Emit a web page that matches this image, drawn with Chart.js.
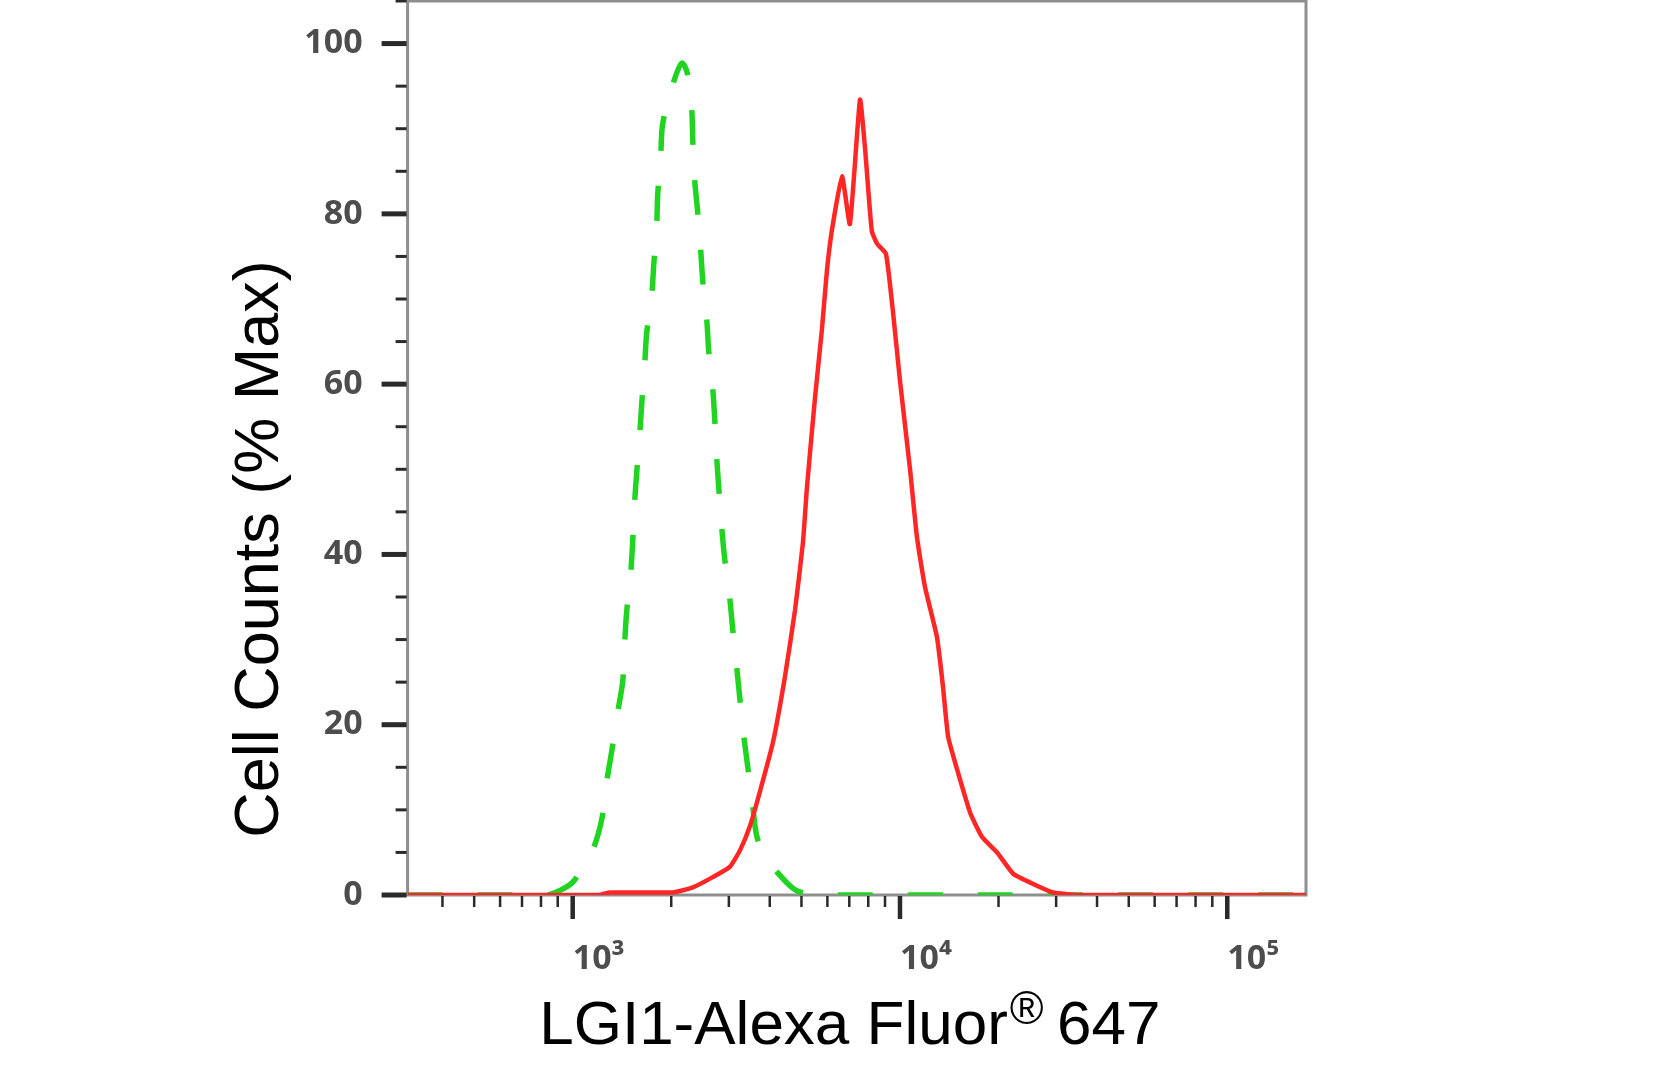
<!DOCTYPE html>
<html>
<head>
<meta charset="utf-8">
<title>LGI1 flow histogram</title>
<script src="https://cdn.jsdelivr.net/npm/chart.js@4.4.1/dist/chart.umd.min.js"></script>
<style>
  html, body { margin: 0; padding: 0; background: #fff; overflow: hidden; }
  #wrap { position: relative; width: 1654px; height: 1085px; }
</style>
</head>
<body>
<div id="wrap"><canvas id="histo"></canvas></div>
<script>
// axis limits and tick labels
var xMin = 313, xMax = 174000;
var xMajorTicks = [1000, 10000, 100000];
var xTickLabels = ["10\u00B3", "10\u2074", "10\u2075"];
var yMajorTicks = [0, 20, 40, 60, 80, 100];
var yTitle = 'Cell Counts (% Max)';
var xTitleParts = ['LGI1-Alexa Fluor', '\u00AE', ' 647'];

// isotype control (green dashed)
var greenX = [313, 600, 830, 900, 1000, 1080, 1160, 1230, 1270, 1316,
              1373, 1422, 1442, 1462, 1504, 1525, 1545, 1569, 1603, 1626,
              1660, 1683, 1745, 1769, 1806, 1819, 1858, 1884, 2023, 2154,
              2240, 2312, 2328, 2361, 2411, 2462, 2500, 2570, 2606, 2680,
              2718, 2757, 2795, 2857, 2917, 3022, 3085, 3175, 3243, 3334,
              3428, 3550, 3652, 3900, 4207, 4842, 6000, 20000, 174000];
var greenY = [0, 0, 0, 0.4, 1.5, 3.5, 5.6, 9.1, 13.3, 16.9,
              21.5, 25.1, 29.7, 33.3, 37.8, 41.5, 46.0, 49.6, 54.2, 57.8,
              62.4, 66.0, 70.6, 74.1, 78.8, 82.3, 87.0, 90.6, 95.2, 97.7,
              96.5, 92.0, 88.5, 83.8, 80.1, 75.6, 71.9, 67.4, 63.7, 59.3,
              55.7, 51.1, 47.8, 42.9, 39.3, 34.7, 31.1, 26.5, 23.0, 18.6,
              15.0, 10.4, 6.9, 4.2, 2.7, 0.5, 0, 0, 0];

// LGI1 stained (red solid)
var redX = [313, 1200, 1300, 2020, 2330, 2680, 3020, 3250, 3480, 3730,
            4090, 4450, 4780, 5050, 5200, 5500, 5770, 5980, 6190, 6650,
            7030, 7548, 7820, 8200, 8510, 9060, 9530, 10000, 10740, 11270,
            11920, 12970, 13530, 14030, 14930, 16370, 17820, 19800, 22180, 25520,
            29380, 35000, 174000];
var redY = [0, 0, 0.3, 0.3, 0.9, 2.1, 3.3, 5.3, 8.1, 12.1,
            17.9, 25.6, 33.5, 41.3, 48.0, 58.4, 66.3, 73.3, 78.0, 84.4,
            78.8, 93.4, 87.7, 78.0, 76.5, 75.3, 68.3, 60.4, 49.9, 42.0,
            36.2, 30.3, 24.5, 18.6, 14.8, 9.7, 6.8, 5.0, 2.5, 1.3,
            0.3, 0, 0];

function toPoints(xs, ys) {
  return xs.map(function(v, i) { return { x: v, y: ys[i] }; });
}

// log minor ticks 2..9 x each decade inside the range
var xTicks = [];
for (var d = 100; d <= 100000; d *= 10) {
  for (var m = 1; m <= 9; m++) {
    var v = d * m;
    if (v >= xMin && v <= xMax) xTicks.push(v);
  }
}

var labelFont = "'Noto Sans', 'Liberation Sans', sans-serif";
var titleFont = "'Liberation Sans', Arial, sans-serif";

// frame, major/minor tick marks and the x title (small raised ®)
var frameAndTicks = {
  id: 'frameAndTicks',
  beforeDatasetsDraw: function(chart) {
    var ctx = chart.ctx, a = chart.chartArea;
    ctx.save();
    ctx.strokeStyle = '#8e8e8e';
    ctx.lineWidth = 3;
    ctx.strokeRect(a.left, a.top, a.right - a.left, a.bottom - a.top);
    ctx.restore();
  },
  afterDraw: function(chart) {
    var ctx = chart.ctx, a = chart.chartArea;
    var x = chart.scales.x, y = chart.scales.y;
    ctx.save();
    ctx.strokeStyle = '#2a2a2a';
    x.ticks.forEach(function(t) {
      var px = x.getPixelForValue(t.value);
      var major = xMajorTicks.indexOf(t.value) >= 0;
      ctx.lineWidth = major ? 4.5 : 2.5;
      ctx.beginPath();
      ctx.moveTo(px, a.bottom + 1);
      ctx.lineTo(px, a.bottom + (major ? 24 : 12));
      ctx.stroke();
    });
    y.ticks.forEach(function(t) {
      var py = y.getPixelForValue(t.value);
      var major = yMajorTicks.indexOf(t.value) >= 0;
      ctx.lineWidth = major ? 5 : 3;
      ctx.beginPath();
      ctx.moveTo(a.left - 1, py);
      ctx.lineTo(a.left - (major ? 26 : 12), py);
      ctx.stroke();
    });

    // x axis title
    var big = '62px ' + titleFont, small = '46px ' + titleFont;
    ctx.fillStyle = '#000';
    ctx.textBaseline = 'alphabetic';
    ctx.textAlign = 'left';
    ctx.font = big;
    var w0 = ctx.measureText(xTitleParts[0]).width;
    var w2 = ctx.measureText(xTitleParts[2]).width;
    ctx.font = small;
    var w1 = ctx.measureText(xTitleParts[1]).width;
    var gap = 2;
    var x0 = (a.left + a.right) / 2 - (w0 + gap + w1 + w2) / 2 - 5;
    var base = a.bottom + 149;
    ctx.font = big;
    ctx.fillText(xTitleParts[0], x0, base);
    ctx.font = small;
    ctx.fillText(xTitleParts[1], x0 + w0 + gap, base - 20);
    ctx.font = big;
    ctx.fillText(xTitleParts[2], x0 + w0 + gap + w1 - 4, base);
    ctx.restore();
  }
};

new Chart(document.getElementById('histo'), {
  type: 'line',
  data: {
    datasets: [{
      label: 'LGI1',
      data: toPoints(redX, redY),
      borderColor: '#ff2626',
      borderWidth: 4.5,
      pointRadius: 0,
      tension: 0.15,
      fill: false
    }, {
      label: 'Isotype',
      data: toPoints(greenX, greenY),
      borderColor: '#22d422',
      borderWidth: 5.5,
      borderDash: [35, 35],
      pointRadius: 0,
      tension: 0.3,
      fill: false
    }]
  },
  options: {
    responsive: true,
    maintainAspectRatio: false,
    animation: false,
    layout: { padding: { left: 0, right: 348, top: 1, bottom: -12 } },
    plugins: {
      legend: { display: false },
      tooltip: { enabled: false },
      title: {
        display: true,
        position: 'left',
        text: yTitle,
        color: '#000',
        font: { family: titleFont, size: 63, weight: 'normal' },
        padding: { top: 223, bottom: 0 }
      }
    },
    scales: {
      x: {
        type: 'logarithmic',
        min: xMin,
        max: xMax,
        afterBuildTicks: function(scale) {
          scale.ticks = xTicks.map(function(v) { return { value: v }; });
        },
        afterFit: function(scale) {
          scale.height = 202;
          scale.paddingLeft = 0;
          scale.paddingRight = 0;
        },
        border: { display: false },
        grid: {
          display: true,
          drawOnChartArea: false,
          drawTicks: true,
          tickLength: 23,
          tickColor: 'rgba(0,0,0,0)'
        },
        ticks: {
          autoSkip: false,
          maxRotation: 0,
          align: 'start',
          padding: 21,
          color: '#4d4d4d',
          font: { family: labelFont, size: 34, weight: 'bold condensed' },
          callback: function(value) {
            var i = xMajorTicks.indexOf(value);
            return i >= 0 ? xTickLabels[i] : '';
          }
        }
      },
      y: {
        type: 'linear',
        min: 0,
        max: 105,
        afterFit: function(scale) {
          scale.width = 109;
          scale.paddingTop = 0;
          scale.paddingBottom = 0;
        },
        border: { display: false },
        grid: {
          display: true,
          drawOnChartArea: false,
          drawTicks: true,
          tickLength: 25,
          tickColor: 'rgba(0,0,0,0)'
        },
        ticks: {
          stepSize: 5,
          autoSkip: false,
          padding: 20,
          color: '#4d4d4d',
          font: { family: labelFont, size: 34, weight: 'bold condensed' },
          callback: function(value) {
            return yMajorTicks.indexOf(value) >= 0 ? String(value) : '';
          }
        }
      }
    }
  },
  plugins: [frameAndTicks]
});
</script>
</body>
</html>
